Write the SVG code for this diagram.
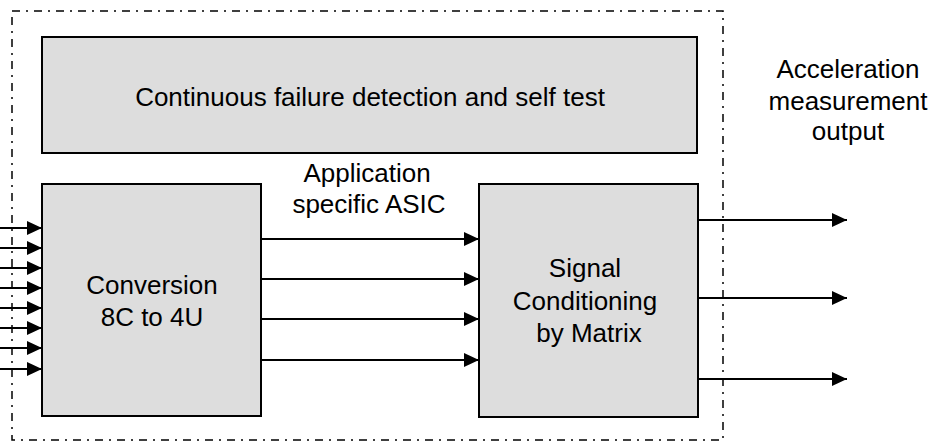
<svg xmlns="http://www.w3.org/2000/svg" width="935" height="444" viewBox="0 0 935 444">
<style>
.box{fill:#dddddd;stroke:#000;stroke-width:2}
.t{font-family:"Liberation Sans",Arial,sans-serif;font-size:26px;fill:#000;text-anchor:middle}
.c{stroke:#000;stroke-width:2;fill:none;marker-end:url(#ah)}
.b{fill:none;stroke:#000;stroke-width:1.5;stroke-dasharray:8,6,2,6}
</style>
<defs>
<marker id="ah" markerUnits="userSpaceOnUse" markerWidth="16" markerHeight="14" refX="15" refY="7" orient="auto">
<path d="M0,0 L15,7 L0,14 Z" fill="#000"/>
</marker>
</defs>
<rect class="b" x="12" y="11" width="711" height="429"/>
<g id="selftest">
<rect class="box" x="42" y="37" width="655" height="116"/>
<text class="t" x="370" y="106">Continuous failure detection and self test</text>
</g>
<g id="asic-label">
<text class="t" x="367" y="182">Application</text>
<text class="t" x="369" y="213">specific ASIC</text>
</g>
<g id="conversion">
<rect class="box" x="42" y="184" width="219" height="232"/>
<text class="t" x="152" y="294">Conversion</text>
<text class="t" x="152" y="326">8C to 4U</text>
</g>
<g id="signal">
<rect class="box" x="479" y="184" width="219" height="233"/>
<text class="t" x="585" y="277">Signal</text>
<text class="t" x="585" y="310">Conditioning</text>
<text class="t" x="589" y="342">by Matrix</text>
</g>
<g id="output-label">
<text class="t" x="848" y="78">Acceleration</text>
<text class="t" x="848" y="110">measurement</text>
<text class="t" x="848" y="140">output</text>
</g>
<g id="connectors">
<line class="c" x1="0" y1="228" x2="42" y2="228"/>
<line class="c" x1="0" y1="248" x2="42" y2="248"/>
<line class="c" x1="0" y1="268" x2="42" y2="268"/>
<line class="c" x1="0" y1="288" x2="42" y2="288"/>
<line class="c" x1="0" y1="308" x2="42" y2="308"/>
<line class="c" x1="0" y1="328" x2="42" y2="328"/>
<line class="c" x1="0" y1="348" x2="42" y2="348"/>
<line class="c" x1="0" y1="369" x2="42" y2="369"/>
<line class="c" x1="261" y1="239" x2="479" y2="239"/>
<line class="c" x1="261" y1="279" x2="479" y2="279"/>
<line class="c" x1="261" y1="319" x2="479" y2="319"/>
<line class="c" x1="261" y1="360" x2="479" y2="360"/>
<line class="c" x1="698" y1="220" x2="847" y2="220"/>
<line class="c" x1="698" y1="298" x2="847" y2="298"/>
<line class="c" x1="698" y1="379" x2="847" y2="379"/>
</g>
</svg>
